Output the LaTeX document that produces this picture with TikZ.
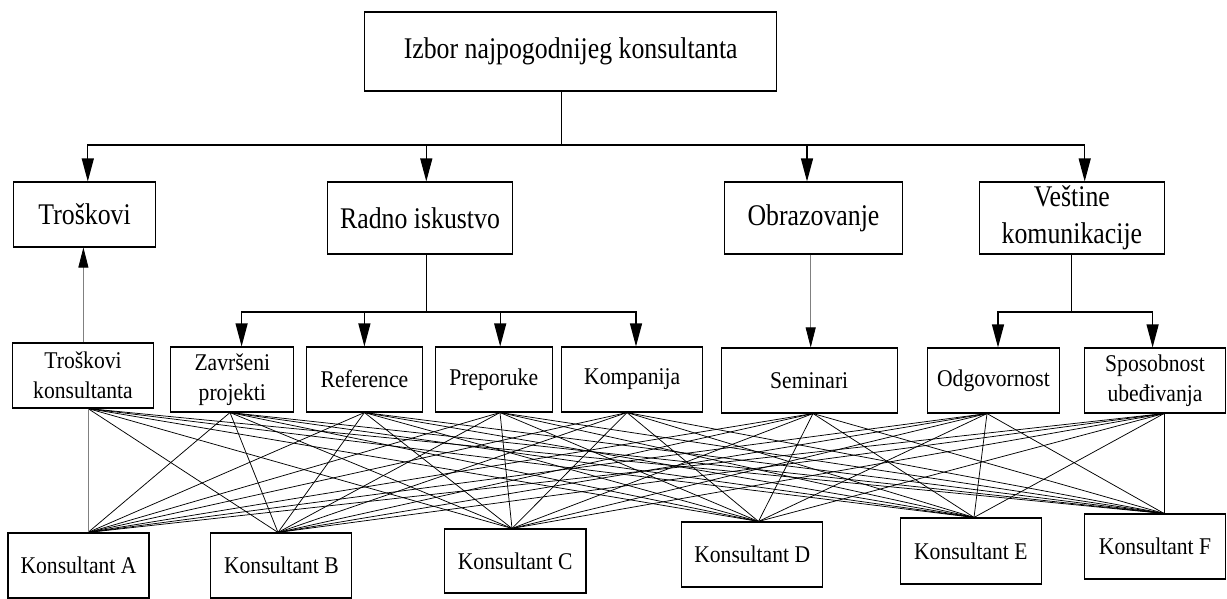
\documentclass[tikz,border=0pt]{standalone}
\usepackage{fontspec}
\setmainfont{Liberation Serif}[FakeStretch=0.9]
\newfontfamily\fbig{Liberation Serif}[FakeStretch=0.86]
\usetikzlibrary{arrows.meta,calc}
\begin{document}
\begin{tikzpicture}[x=1pt,y=-1pt,
  box/.style={draw, line width=1.1pt, inner sep=0pt, align=center},
  wh/.style 2 args={minimum width=#1pt, minimum height=#2pt},
  fT/.style={font=\fbig\fontsize{30}{36}\selectfont},
  fA/.style={font=\fbig\fontsize{30}{37}\selectfont},
  fB/.style={font=\fontsize{24}{30}\selectfont},
  conn/.style={line width=1.2pt},
  arr/.style={conn, -{Triangle[length=23pt,width=12pt]}},
  garr/.style={line width=0.8pt, draw=gray, -{Triangle[length=20pt,width=10pt,color=black]}},
  web/.style={line width=0.75pt}]
\path[fill=white] (0,0) rectangle (1227,594);
% top
\node[box,fT,wh={412}{79}] (top) at (570.7,51.5) {Izbor najpogodnijeg konsultanta};
% level 1
\node[box,fA,wh={141.6}{65}] (tr) at (84.6,214.5) {Troškovi};
\node[box,fA,wh={185}{72}] (ri) at (420,218) {Radno iskustvo};
\node[box,fA,wh={178.3}{72}] (ob) at (813.5,218) {Obrazovanje};
\node[box,fA,wh={184.7}{72}] (vk) at (1071.9,218) {Veštine\\komunikacije};
% level 2
\node[box,fB,wh={141.5}{65}] (tk) at (83,375.5) {Troškovi\\konsultanta};
\node[box,fB,wh={123}{65}] (zp) at (232.3,379.5) {Završeni\\projekti};
\node[box,fB,wh={116.7}{65}] (rf) at (364.4,379.5) {Reference};
\node[box,fB,wh={116.7}{65}] (pr) at (493.7,379.5) {Preporuke};
\node[box,fB,wh={141.3}{65}] (km) at (632.2,379.5) {Kompanija};
\node[box,fB,wh={176}{65}] (sm) at (809.2,380.5) {Seminari};
\node[box,fB,wh={132}{65}] (od) at (993.5,380.5) {Odgovornost};
\node[box,fB,wh={141.5}{65}] (sp) at (1155,380.5) {Sposobnost\\ubeđivanja};
% level 3
\node[box,fB,wh={141}{65}] (ka) at (78.5,565.5) {Konsultant A};
\node[box,fB,wh={141}{65}] (kb) at (281.4,565.5) {Konsultant B};
\node[box,fB,wh={141.6}{64}] (kc) at (515.2,561) {Konsultant C};
\node[box,fB,wh={141}{65}] (kd) at (752.2,554.5) {Konsultant D};
\node[box,fB,wh={141.5}{66}] (ke) at (970.8,551) {Konsultant E};
\node[box,fB,wh={141.5}{65}] (kf) at (1155,546.5) {Konsultant F};
% hubs
\coordinate (h0) at (561.5,145);
\coordinate (h1) at (426.3,312);
\coordinate (h2) at (1071.8,312);
\draw[conn] (top.south -| h0) -- (h0);
\draw[arr] (h0) -| ([xshift=3.2pt]tr.north);
\draw[arr] (h0) -| ([xshift=6.3pt]ri.north);
\draw[arr] (h0) -| ([xshift=-6.5pt]ob.north);
\draw[arr] (h0) -| ([xshift=12.8pt]vk.north);
\draw[conn] (ri.south -| h1) -- (h1);
\draw[arr] (h1) -| ([xshift=9.3pt]zp.north);
\draw[arr] (h1) -| (rf.north);
\draw[arr] (h1) -| ([xshift=6.5pt]pr.north);
\draw[arr] (h1) -| ([xshift=3.8pt]km.north);
\draw[conn] (vk.south -| h2) -- (h2);
\draw[arr] (h2) -| ([xshift=4.5pt]od.north);
\draw[arr] (h2) -| ([xshift=-2.4pt]sp.north);
\coordinate (smt) at ([xshift=1.5pt]sm.north);
\draw[garr] (smt |- ob.south) -- (smt);
\coordinate (tkt) at ([xshift=0.4pt]tk.north);
\draw[garr] (tkt) -- (tkt |- tr.south);
% web anchors
\coordinate (tk-b) at ([xshift=5pt]tk.south);
\coordinate (zp-b) at ([xshift=-2.3pt]zp.south);
\coordinate (rf-b) at (rf.south);
\coordinate (pr-b) at ([xshift=6.3pt]pr.south);
\coordinate (km-b) at ([xshift=-5.2pt]km.south);
\coordinate (sm-b) at ([xshift=3.8pt]sm.south);
\coordinate (od-b) at ([xshift=-6.5pt]od.south);
\coordinate (sp-b) at ([xshift=9pt]sp.south);
\coordinate (ka-t) at ([xshift=9.5pt]ka.north);
\coordinate (kb-t) at ([xshift=-3.4pt]kb.north);
\coordinate (kc-t) at ([xshift=-3.2pt]kc.north);
\coordinate (kd-t) at ([xshift=6.3pt]kd.north);
\coordinate (ke-t) at ([xshift=3.2pt]ke.north);
\coordinate (kf-t) at ([xshift=9pt]kf.north);
\foreach \c in {tk,zp,rf,pr,km,sm,od,sp}
  \foreach \k in {ka,kb,kc,kd,ke,kf}
    \draw[web] (\c-b) -- (\k-t);
\draw[web,draw=gray] (tk-b) -- (ka-t);
\end{tikzpicture}
\end{document}
